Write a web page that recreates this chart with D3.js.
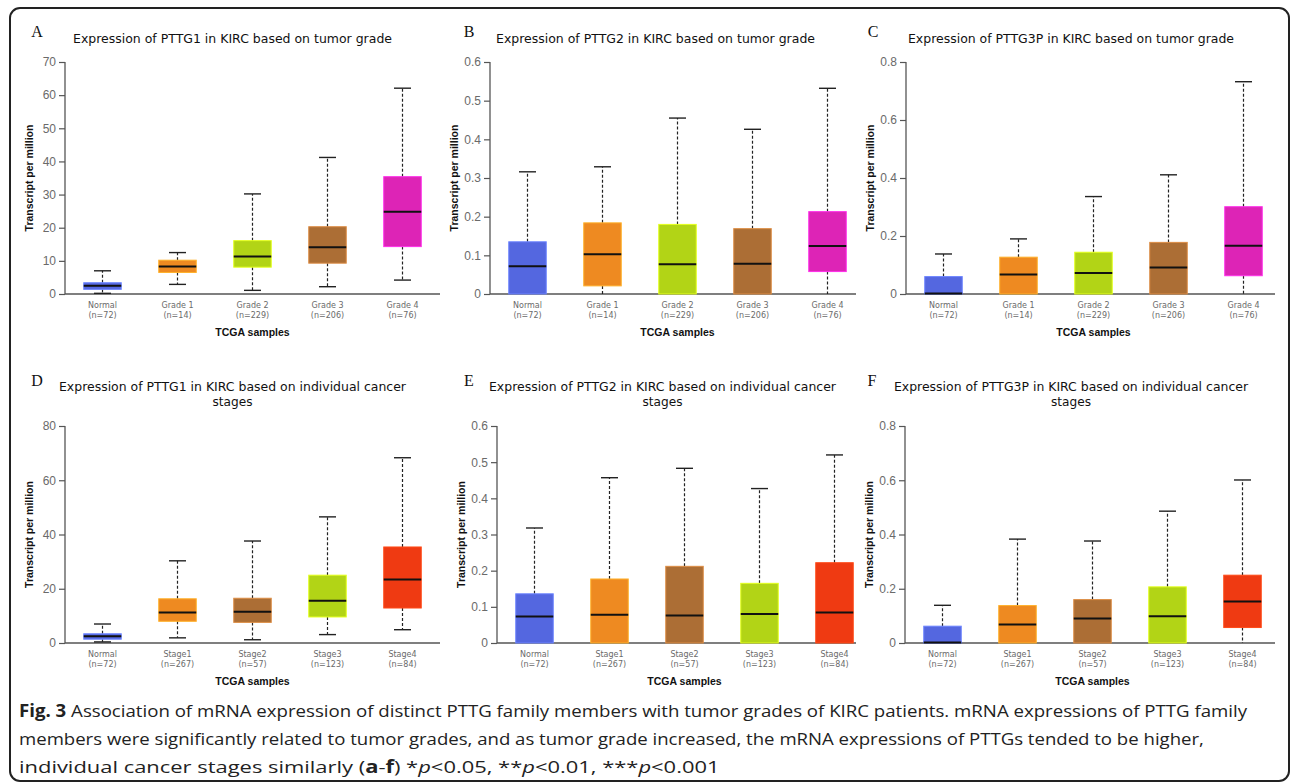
<!DOCTYPE html>
<html>
<head>
<meta charset="utf-8">
<script src="https://cdn.jsdelivr.net/npm/d3@7"></script>
<style>
  html, body { margin: 0; padding: 0; background: #fff; }
  svg { display: block; }
  .tick-lab { font-family: "Liberation Sans", Arial, sans-serif; font-size: 12px; fill: #6a6a6a; }
  .cat-lab { font-family: "DejaVu Sans", sans-serif; font-size: 8px; fill: #6a6a6a; }
  .ax-title { font-family: "Liberation Sans", Arial, sans-serif; font-size: 10.5px; font-weight: bold; fill: #111; }
  .p-title { font-family: "DejaVu Sans", sans-serif; font-size: 13px; fill: #111; }
  .p-letter { font-family: "Liberation Serif", serif; font-size: 16px; fill: #111; }
  .caption { font-family: "Open Sans", sans-serif; font-size: 17px; fill: #222; }
</style>
</head>
<body>
<svg id="chart" width="1290" height="782"></svg>
<script>
// categories
const gradeCats = ["Normal", "Grade 1", "Grade 2", "Grade 3", "Grade 4"];
const gradeN = [72, 14, 229, 206, 76];
const stageCats = ["Normal", "Stage1", "Stage2", "Stage3", "Stage4"];
const stageN = [72, 267, 57, 123, 84];

// box stats: [lower whisker, q1, median, q3, upper whisker]
const pttg1Grade = [[0.2, 1.4, 2.5, 3.4, 7.0], [2.9, 6.5, 8.3, 10.2, 12.5], [1.1, 8.1, 11.3, 16.1, 30.2], [2.2, 9.3, 14.1, 20.3, 41.2], [4.2, 14.3, 24.8, 35.4, 62.1]];
const pttg2Grade = [[0, 0, 0.072, 0.135, 0.316], [0, 0.021, 0.103, 0.184, 0.329], [0, 0, 0.077, 0.180, 0.455], [0, 0, 0.078, 0.169, 0.426], [0, 0.058, 0.124, 0.213, 0.532]];
const pttg3pGrade = [[0, 0, 0.002, 0.060, 0.138], [0, 0, 0.067, 0.127, 0.190], [0, 0, 0.072, 0.144, 0.336], [0, 0, 0.091, 0.178, 0.411], [0, 0.063, 0.166, 0.301, 0.732]];
const pttg1Stage = [[0.4, 1.4, 2.5, 3.4, 7.0], [1.9, 8.0, 11.2, 16.3, 30.3], [1.2, 7.6, 11.5, 16.5, 37.6], [3.1, 9.6, 15.6, 25.0, 46.5], [4.9, 12.9, 23.4, 35.4, 68.3]];
const pttg2Stage = [[0, 0, 0.073, 0.136, 0.318], [0, 0, 0.078, 0.177, 0.457], [0, 0, 0.076, 0.212, 0.483], [0, 0, 0.080, 0.165, 0.427], [0, 0, 0.084, 0.222, 0.520]];
const pttg3pStage = [[0, 0, 0.002, 0.062, 0.139], [0, 0, 0.068, 0.138, 0.383], [0, 0, 0.090, 0.160, 0.376], [0, 0, 0.099, 0.207, 0.486], [0, 0.057, 0.153, 0.250, 0.601]];

const yMaxes = [70, 0.6, 0.8, 80, 0.6, 0.8];
const yTickCounts = [7, 6, 4, 4, 6, 4];

const gradeColors = ["#5467e0", "#ee8a21", "#b2d416", "#ac6e35", "#dd24b6"];
const stageColors = ["#5467e0", "#ee8a21", "#ac6e35", "#b2d416", "#ef3a12"];

const caption = [
  [{t: "Fig. 3", b: true}, {t: " Association of mRNA expression of distinct PTTG family members with tumor grades of KIRC patients. mRNA expressions of PTTG family"}],
  [{t: "members were significantly related to tumor grades, and as tumor grade increased, the mRNA expressions of PTTGs tended to be higher,"}],
  [{t: "individual cancer stages similarly ("}, {t: "a", b: true}, {t: "-"}, {t: "f", b: true}, {t: ") *"}, {t: "p", i: true}, {t: "<0.05, **"}, {t: "p", i: true}, {t: "<0.01, ***"}, {t: "p", i: true}, {t: "<0.001"}]
];
// right end of each caption line in the reference
const captionEnds = [1248, 1205, 720];

const panels = [
  {letter: "A", title: ["Expression of PTTG1 in KIRC based on tumor grade"], cats: gradeCats, ns: gradeN, stats: pttg1Grade, colors: gradeColors,
   x0: 65, xEnd: 440, top: 62, y0: 294, tx: 232.5, ty: 42.5, tw: [319], lx: 37, ly: 37},
  {letter: "B", title: ["Expression of PTTG2 in KIRC based on tumor grade"], cats: gradeCats, ns: gradeN, stats: pttg2Grade, colors: gradeColors,
   x0: 490, xEnd: 856, top: 62, y0: 294, tx: 655.5, ty: 42.5, tw: [319], lx: 469, ly: 37},
  {letter: "C", title: ["Expression of PTTG3P in KIRC based on tumor grade"], cats: gradeCats, ns: gradeN, stats: pttg3pGrade, colors: gradeColors,
   x0: 906, xEnd: 1275, top: 62, y0: 294, tx: 1071, ty: 42.5, tw: [326], lx: 873, ly: 37},
  {letter: "D", title: ["Expression of PTTG1 in KIRC based on individual cancer", "stages"], cats: stageCats, ns: stageN, stats: pttg1Stage, colors: stageColors,
   x0: 65, xEnd: 440, top: 426, y0: 643, tx: 232.5, ty: 390.5, tw: [347, 40], lx: 37, ly: 386},
  {letter: "E", title: ["Expression of PTTG2 in KIRC based on individual cancer", "stages"], cats: stageCats, ns: stageN, stats: pttg2Stage, colors: stageColors,
   x0: 497, xEnd: 856, top: 426, y0: 643, tx: 662.5, ty: 390.5, tw: [347, 40], lx: 469, ly: 386},
  {letter: "F", title: ["Expression of PTTG3P in KIRC based on individual cancer", "stages"], cats: stageCats, ns: stageN, stats: pttg3pStage, colors: stageColors,
   x0: 905, xEnd: 1275, top: 426, y0: 643, tx: 1071, ty: 390.5, tw: [354, 40], lx: 872, ly: 386}
];

const svg = d3.select("#chart");

// outer frame
svg.append("rect")
  .attr("x", 10).attr("y", 8)
  .attr("width", 1279).attr("height", 773)
  .attr("rx", 10)
  .attr("fill", "none")
  .attr("stroke", "#222")
  .attr("stroke-width", 2);

const fmt = d3.format("~g");

panels.forEach((p, pi) => {
  const g = svg.append("g");

  const x = d3.scaleBand()
    .domain(p.cats)
    .range([p.x0, p.x0 + 375])
    .paddingInner(0.5)
    .paddingOuter(0.25);

  const y = d3.scaleLinear()
    .domain([0, yMaxes[pi]])
    .range([p.y0, p.top]);

  // y axis
  const yAxis = g.append("g")
    .attr("transform", `translate(${p.x0},0)`)
    .call(d3.axisLeft(y).ticks(yTickCounts[pi]).tickSize(6).tickPadding(3).tickFormat(fmt));
  yAxis.select(".domain").attr("stroke", "#555").attr("stroke-width", 1.3).attr("d", `M0,${p.top}V${p.y0}`);
  yAxis.selectAll(".tick line").attr("stroke", "#555").attr("stroke-width", 1.2);
  yAxis.selectAll(".tick text").attr("class", "tick-lab").attr("fill", null).attr("font-size", null).attr("font-family", null);

  // x axis baseline
  g.append("line")
    .attr("x1", p.x0).attr("x2", p.xEnd)
    .attr("y1", p.y0).attr("y2", p.y0)
    .attr("stroke", "#555").attr("stroke-width", 1.3);

  const bw = x.bandwidth();
  const capW = 17;

  const box = g.selectAll(".bx")
    .data(p.stats.map((s, i) => ({cat: p.cats[i], n: p.ns[i], s: s, c: p.colors[i]})))
    .enter().append("g").attr("class", "bx");

  // whiskers
  box.append("line")
    .attr("x1", d => x(d.cat) + bw / 2).attr("x2", d => x(d.cat) + bw / 2)
    .attr("y1", d => y(d.s[3])).attr("y2", d => y(d.s[4]))
    .attr("stroke", "#222").attr("stroke-width", 1.2).attr("stroke-dasharray", "3,2");
  box.filter(d => d.s[1] > d.s[0]).append("line")
    .attr("x1", d => x(d.cat) + bw / 2).attr("x2", d => x(d.cat) + bw / 2)
    .attr("y1", d => y(d.s[1])).attr("y2", d => y(d.s[0]))
    .attr("stroke", "#222").attr("stroke-width", 1.2).attr("stroke-dasharray", "3,2");
  box.append("line")
    .attr("x1", d => x(d.cat) + bw / 2 - capW / 2).attr("x2", d => x(d.cat) + bw / 2 + capW / 2)
    .attr("y1", d => y(d.s[4])).attr("y2", d => y(d.s[4]))
    .attr("stroke", "#222").attr("stroke-width", 1.4);
  box.filter(d => d.s[0] > 0).append("line")
    .attr("x1", d => x(d.cat) + bw / 2 - capW / 2).attr("x2", d => x(d.cat) + bw / 2 + capW / 2)
    .attr("y1", d => y(d.s[0])).attr("y2", d => y(d.s[0]))
    .attr("stroke", "#222").attr("stroke-width", 1.4);

  // boxes
  box.append("rect")
    .attr("x", d => x(d.cat)).attr("width", bw)
    .attr("y", d => y(d.s[3]))
    .attr("height", d => y(d.s[1]) - y(d.s[3]))
    .attr("fill", d => d.c)
    .attr("stroke", d => d3.color(d.c).brighter(0.7))
    .attr("stroke-width", 1);

  // median
  box.append("line")
    .attr("x1", d => x(d.cat)).attr("x2", d => x(d.cat) + bw)
    .attr("y1", d => y(d.s[2])).attr("y2", d => y(d.s[2]))
    .attr("stroke", "#111").attr("stroke-width", 2);

  // category labels
  box.append("text").attr("class", "cat-lab")
    .attr("x", d => x(d.cat) + bw / 2).attr("y", p.y0 + 14)
    .attr("text-anchor", "middle").text(d => d.cat);
  box.append("text").attr("class", "cat-lab")
    .attr("x", d => x(d.cat) + bw / 2).attr("y", p.y0 + 24)
    .attr("text-anchor", "middle").text(d => `(n=${d.n})`);

  // axis titles
  g.append("text").attr("class", "ax-title")
    .attr("x", p.x0 + 187.5).attr("y", p.y0 + 42)
    .attr("text-anchor", "middle").text("TCGA samples");
  g.append("text").attr("class", "ax-title")
    .attr("transform", `translate(${p.x0 - 32},${(p.top + p.y0) / 2}) rotate(-90)`)
    .attr("text-anchor", "middle").text("Transcript per million");

  // panel title
  p.title.forEach((t, li) => {
    g.append("text").attr("class", "p-title")
      .attr("x", p.tx).attr("y", p.ty + li * 15.5)
      .attr("text-anchor", "middle")
      .attr("textLength", p.tw[li]).attr("lengthAdjust", "spacingAndGlyphs")
      .text(t);
  });
  g.append("text").attr("class", "p-letter")
    .attr("x", p.lx).attr("y", p.ly)
    .attr("text-anchor", "middle").text(p.letter);
});

// caption, each line squeezed to its width in the reference
caption.forEach((line, li) => {
  const lg = svg.append("g");
  const t = lg.append("text").attr("class", "caption").attr("y", 717 + li * 28);
  line.forEach(seg => {
    t.append("tspan")
      .attr("font-weight", seg.b ? "bold" : null)
      .attr("font-style", seg.i ? "italic" : null)
      .text(seg.t);
  });
  const natural = t.node().getComputedTextLength();
  lg.attr("transform", `translate(19,0) scale(${(captionEnds[li] - 19) / natural},1)`);
});
</script>
</body>
</html>
